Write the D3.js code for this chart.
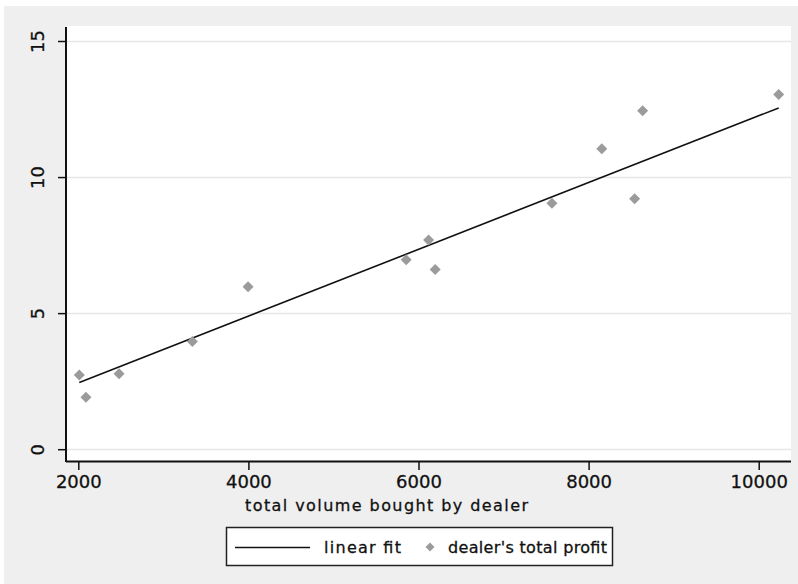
<!DOCTYPE html>
<html>
<head>
<meta charset="utf-8">
<script src="https://cdn.jsdelivr.net/npm/d3@7"></script>
<style>
  body { margin: 0; background: #fff; }
  text { font-family: "DejaVu Sans", sans-serif; fill: #111; }
</style>
</head>
<body>
<div id="chart"></div>
<script>
// Data
const volume = [2012, 2090, 2479, 3341, 3996, 5855, 6118, 6196, 7569, 8155, 8541, 8635, 10235];
const profit = [2.73, 1.91, 2.77, 3.96, 5.97, 6.96, 7.69, 6.60, 9.04, 11.04, 9.20, 12.44, 13.03];
const fitX = [2012, 10235];
const fitY = [2.45, 12.54];
const xTicks = [2000, 4000, 6000, 8000, 10000];
const yTicks = [0, 5, 10, 15];
const legendLabels = ["linear fit", "dealer's total profit"];

const drawScatter = (containerId) => {
    const width = 798;
    const height = 584;
    const plot = { left: 66, right: 791, top: 26, bottom: 461 };

    const xScale = d3.scaleLinear()
        .domain([2000, 10000])
        .range([78.3, 758.7]);

    const yScale = d3.scaleLinear()
        .domain([0, 15])
        .range([449.2, 41]);

    const svg = d3.select(containerId)
        .append("svg")
        .attr("width", width)
        .attr("height", height);

    // outer gray background
    svg.append("rect")
        .attr("x", 4).attr("y", 6)
        .attr("width", width - 4).attr("height", height - 6)
        .attr("fill", "#efefef");

    // plot region
    svg.append("rect")
        .attr("x", plot.left).attr("y", plot.top)
        .attr("width", plot.right - plot.left).attr("height", plot.bottom - plot.top)
        .attr("fill", "#fff");

    // gridlines
    svg.append("g")
        .selectAll("line")
        .data(yTicks)
        .join("line")
        .attr("x1", plot.left)
        .attr("x2", plot.right)
        .attr("y1", d => Math.round(yScale(d)) + 0.5)
        .attr("y2", d => Math.round(yScale(d)) + 0.5)
        .attr("stroke", "#e6e6e6")
        .attr("stroke-width", 1.5);

    // axes
    const leftAxis = d3.axisLeft(yScale)
        .tickValues(yTicks)
        .tickSize(8)
        .tickPadding(0)
        .tickFormat(d3.format("d"));

    const yAxis = svg.append("g")
        .attr("transform", `translate(${plot.left},0)`)
        .call(leftAxis);
    yAxis.select(".domain").remove();
    yAxis.selectAll("line").attr("stroke", "#111").attr("stroke-width", 1.5);
    yAxis.selectAll("text")
        .attr("x", 0).attr("y", 0).attr("dy", null)
        .attr("transform", "translate(-22,0) rotate(-90)")
        .attr("text-anchor", "middle")
        .attr("stroke", "#111").attr("stroke-width", 0.3)
        .style("font-size", "18px")
        .style("font-family", "DejaVu Sans, sans-serif");

    const bottomAxis = d3.axisBottom(xScale)
        .tickValues(xTicks)
        .tickSize(9)
        .tickPadding(4)
        .tickFormat(d3.format("d"));

    const xAxis = svg.append("g")
        .attr("transform", `translate(0,${plot.bottom})`)
        .call(bottomAxis);
    xAxis.select(".domain").remove();
    xAxis.selectAll("line").attr("stroke", "#111").attr("stroke-width", 1.5);
    xAxis.selectAll("text")
        .attr("y", 27).attr("dy", null)
        .attr("stroke", "#111").attr("stroke-width", 0.3)
        .style("font-size", "18px")
        .style("font-family", "DejaVu Sans, sans-serif");

    // axis lines
    svg.append("line")
        .attr("x1", plot.left).attr("x2", plot.left)
        .attr("y1", plot.top + 1).attr("y2", plot.bottom + 1)
        .attr("stroke", "#111").attr("stroke-width", 2);
    svg.append("line")
        .attr("x1", plot.left).attr("x2", plot.right)
        .attr("y1", plot.bottom + 0.5).attr("y2", plot.bottom + 0.5)
        .attr("stroke", "#111").attr("stroke-width", 2);

    // axis title
    svg.append("text")
        .attr("x", 245)
        .attr("y", 511)
        .attr("textLength", 283)
        .attr("lengthAdjust", "spacing")
        .attr("stroke", "#111").attr("stroke-width", 0.3)
        .style("font-size", "16px")
        .text("total volume bought by dealer");

    // fitted line
    const fit = fitX.map((x, i) => [x, fitY[i]]);
    svg.append("path")
        .datum(fit)
        .attr("d", d3.line().x(d => xScale(d[0])).y(d => yScale(d[1])))
        .attr("fill", "none")
        .attr("stroke", "#111")
        .attr("stroke-width", 1.6);

    // scatter points (diamonds)
    const diamond = "M0,-5.5L5.5,0L0,5.5L-5.5,0Z";
    svg.append("g")
        .selectAll("path")
        .data(volume.map((v, i) => [v, profit[i]]))
        .join("path")
        .attr("d", diamond)
        .attr("transform", d => `translate(${xScale(d[0])},${yScale(d[1])})`)
        .attr("fill", "#9b9b9b");

    // legend
    const legend = svg.append("g");
    legend.append("rect")
        .attr("x", 226.5).attr("y", 527.5)
        .attr("width", 386).attr("height", 38)
        .attr("fill", "#fff")
        .attr("stroke", "#222")
        .attr("stroke-width", 1.5);
    legend.append("line")
        .attr("x1", 235).attr("x2", 310)
        .attr("y1", 547.5).attr("y2", 547.5)
        .attr("stroke", "#111").attr("stroke-width", 1.6);
    legend.append("text")
        .attr("x", 324).attr("y", 553)
        .attr("textLength", 77)
        .attr("lengthAdjust", "spacing")
        .attr("stroke", "#111").attr("stroke-width", 0.3)
        .style("font-size", "16px")
        .text(legendLabels[0]);
    legend.append("path")
        .attr("d", "M0,-4.5L4.5,0L0,4.5L-4.5,0Z")
        .attr("transform", "translate(430,547)")
        .attr("fill", "#9b9b9b");
    legend.append("text")
        .attr("x", 448).attr("y", 553)
        .attr("textLength", 159)
        .attr("lengthAdjust", "spacing")
        .attr("stroke", "#111").attr("stroke-width", 0.3)
        .style("font-size", "16px")
        .text(legendLabels[1]);
};

drawScatter("#chart");
</script>
</body>
</html>
